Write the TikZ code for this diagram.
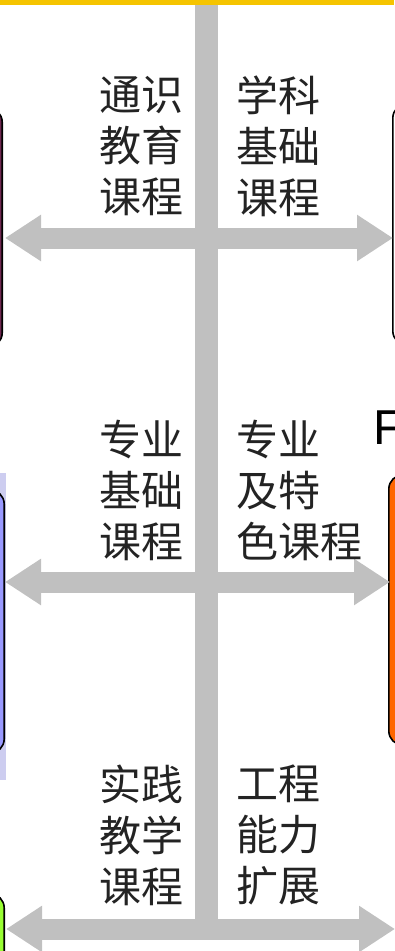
\documentclass[tikz,border=0pt]{standalone}
\usepackage{fontspec}
\setmainfont{Noto Sans CJK SC}
\newfontfamily\latinsans{Liberation Sans}
\usetikzlibrary{arrows.meta, positioning}
\definecolor{barcolor}{RGB}{192, 192, 192}
\definecolor{topbarcolor}{RGB}{245, 196, 0}
\definecolor{textcolor}{RGB}{35, 35, 35}
\definecolor{mauvecolor}{RGB}{110, 40, 80}
\definecolor{periwinkle}{RGB}{153, 153, 255}
\definecolor{haloviolet}{RGB}{205, 205, 240}
\definecolor{orangecolor}{RGB}{255, 102, 0}
\definecolor{limecolor}{RGB}{153, 255, 51}

\begin{document}
\begin{tikzpicture}[
    x=1pt, y=-1pt,
    bar/.style={line width=21pt, draw=barcolor},
    twoway/.style={bar, {Triangle[length=36pt, width=44pt]}-{Triangle[length=36pt, width=44pt]}},
    coltext/.style={inner sep=0pt, font=\fontsize{42}{51}\selectfont, text=textcolor},
    sidebox/.style={draw=black, line width=1.6pt, rounded corners=14pt}
]
    \useasboundingbox (0,0) rectangle (394,951);

    % Side boxes (cut off by the page edge)
    \node[sidebox, fill=mauvecolor, anchor=east, minimum width=200pt, minimum height=239pt] (boxtl) at (3, 227.5) {};
    \node[sidebox, fill=white, anchor=west, minimum width=200pt, minimum height=241pt] (boxtr) at (392, 224.5) {};
    \fill[haloviolet] (-20, 473) rectangle (6, 780);
    \node[sidebox, fill=periwinkle, anchor=east, minimum width=200pt, minimum height=263pt] (boxml) at (5, 621.5) {};
    \node[sidebox, fill=orangecolor, anchor=west, minimum width=200pt, minimum height=270pt] (boxmr) at (388, 610) {};
    \node[sidebox, fill=limecolor, anchor=north east, minimum width=200pt, minimum height=200pt] (boxbl) at (5, 893) {};

    \node[font=\latinsans\fontsize{49}{49}\selectfont, anchor=base west, inner sep=0pt] (fletter) at (373, 444) {F};

    % Gray stem and arrows
    \coordinate (stemtop) at (206.5, 5);
    \coordinate (stembot) at (206.5, 929);
    \draw[bar, line width=23pt] (stemtop) -- (stembot);

    \coordinate (rowaw) at (5, 238);
    \coordinate (rowae) at (393, 238);
    \draw[twoway] (rowaw) -- (rowae);

    \coordinate (rowbw) at (5, 582);
    \coordinate (rowbe) at (390, 582);
    \draw[twoway] (rowbw) -- (rowbe);

    \coordinate (rowcw) at (6, 929);
    \coordinate (rowce) at (395, 929);
    \draw[twoway] (rowcw) -- (rowce);

    % Yellow band on top
    \fill[topbarcolor] (0, 0) rectangle (394, 5);

    % Course labels
    \node[coltext, align=right, anchor=north east] (general) at (184, 76) {通识\\教育\\课程};
    \node[coltext, align=left, anchor=north west] (basic) at (236, 76) {学科\\基础\\课程};

    \node[coltext, align=right, anchor=north east] (majorbase) at (184, 420) {专业\\基础\\课程};
    \node[coltext, align=left, anchor=north west] (majorspec) at (236, 420) {专业\\及特\\色课程};

    \node[coltext, align=right, anchor=north east] (practice) at (184, 765) {实践\\教学\\课程};
    \node[coltext, align=left, anchor=north west] (engineer) at (236, 765) {工程\\能力\\扩展};
\end{tikzpicture}
\end{document}
